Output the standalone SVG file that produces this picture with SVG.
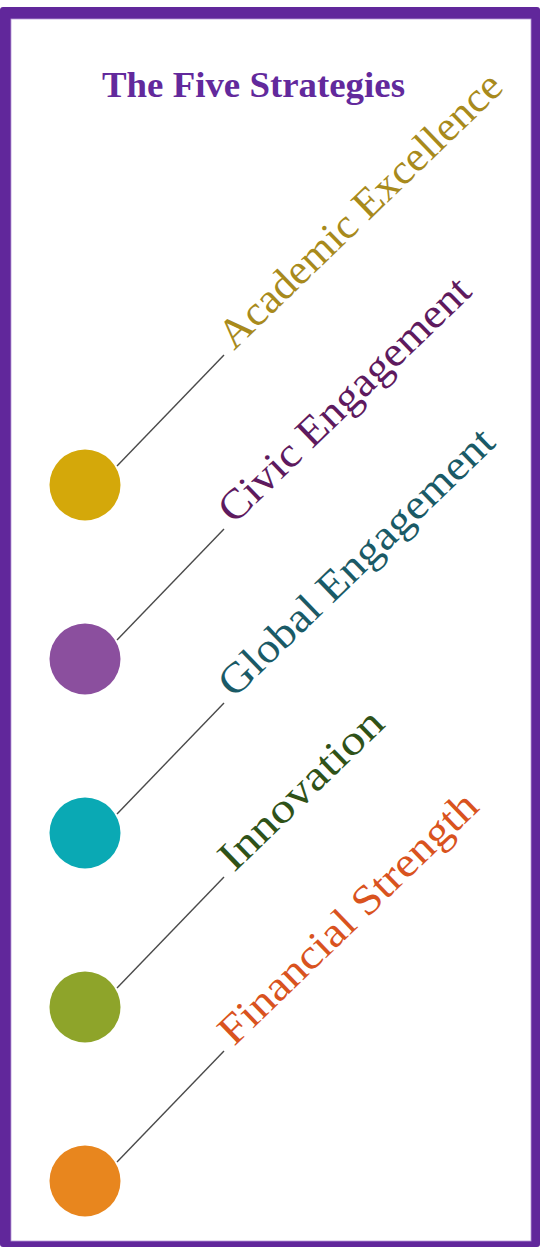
<svg xmlns="http://www.w3.org/2000/svg" width="540" height="1247" viewBox="0 0 540 1247">
<style>
.lbl{font-family:"Liberation Serif","DejaVu Serif",serif;font-size:42px}
.ttl{font-family:"Liberation Serif","DejaVu Serif",serif;font-size:36px;font-weight:bold;fill:#62299c}
.conn line{stroke:#4a4a4a;stroke-width:1.4}
</style>
<rect x="0" y="0" width="540" height="1247" fill="#fff"/>
<rect x="0" y="7" width="540" height="1240" rx="3" fill="#61279b"/>
<rect x="11" y="19" width="520" height="1222" fill="#fff" stroke="#b79ad6" stroke-width="0.8"/>
<text class="ttl" x="253.5" y="97" text-anchor="middle" textLength="303" lengthAdjust="spacingAndGlyphs">The Five Strategies</text>
<g id="connectors" class="conn">
<line x1="117" y1="466" x2="224" y2="355"/>
<line x1="117" y1="640" x2="224" y2="529"/>
<line x1="117" y1="814" x2="224" y2="703"/>
<line x1="117" y1="988" x2="224" y2="877"/>
<line x1="117" y1="1162" x2="224" y2="1051"/>
</g>
<g id="academic"><circle cx="85" cy="485" r="35.5" fill="#d4a80a"/><text class="lbl" fill="#a88a1c" transform="translate(234,351) rotate(-44)" textLength="377" lengthAdjust="spacingAndGlyphs">Academic Excellence</text></g>
<g id="civic"><circle cx="85" cy="659" r="35.5" fill="#8b4f9e"/><text class="lbl" fill="#5e1a5e" transform="translate(234,525) rotate(-44)" textLength="333" lengthAdjust="spacingAndGlyphs">Civic Engagement</text></g>
<g id="global"><circle cx="85" cy="833" r="35.5" fill="#0aa9b4"/><text class="lbl" fill="#1a5a66" transform="translate(234,699) rotate(-44)" textLength="366" lengthAdjust="spacingAndGlyphs">Global Engagement</text></g>
<g id="innovation"><circle cx="85" cy="1007" r="35.5" fill="#8ea42a"/><text class="lbl" fill="#2f5218" transform="translate(234,873) rotate(-44)" textLength="212" lengthAdjust="spacingAndGlyphs">Innovation</text></g>
<g id="financial"><circle cx="85" cy="1181" r="35.5" fill="#e8861e"/><text class="lbl" fill="#d9531e" transform="translate(234,1047) rotate(-44)" textLength="343" lengthAdjust="spacingAndGlyphs">Financial Strength</text></g>
</svg>
